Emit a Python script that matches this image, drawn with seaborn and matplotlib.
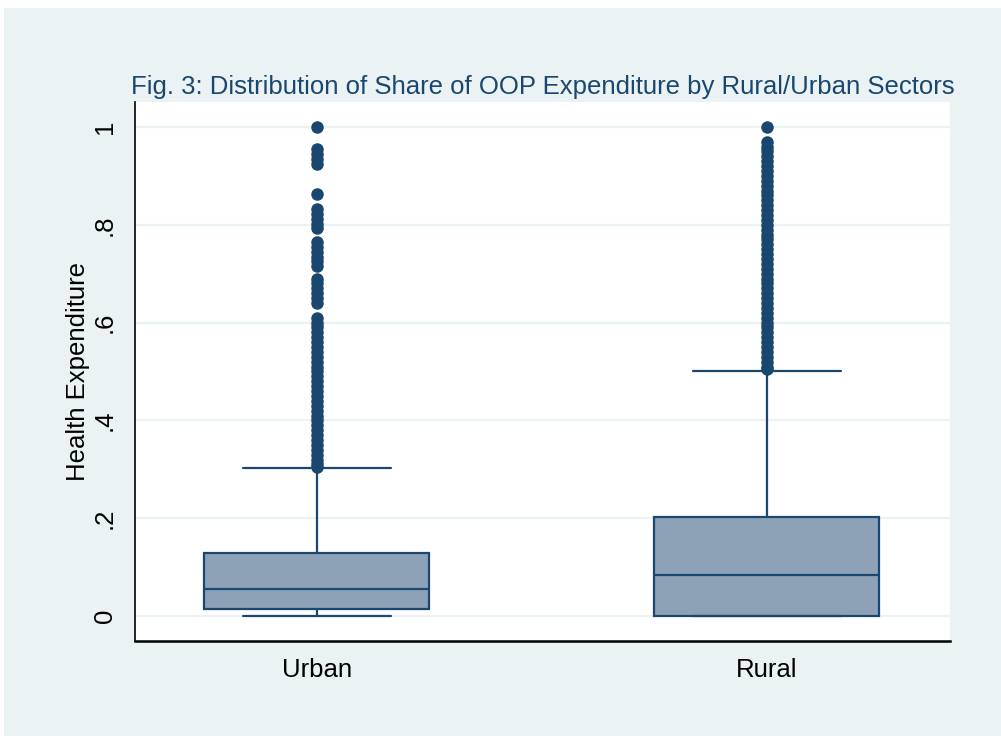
import pandas as pd
import numpy as np
import matplotlib.pyplot as plt
import seaborn as sns
from matplotlib.patches import Rectangle


# five-number summaries (min, q1, median, q3, upper whisker)
sectors = ['Urban', 'Rural']
urban_box = [0.0, 0.0143, 0.055, 0.129, 0.302]
rural_box = [0.0, 0.0, 0.084, 0.202, 0.501]

# outside values (dots above the whiskers)
urban_out = [1.0, 0.955, 0.945, 0.935, 0.925, 0.862, 0.832, 0.822, 0.812, 0.802, 0.793,
             0.765, 0.755, 0.745, 0.735, 0.725, 0.715, 0.69, 0.68, 0.67, 0.66, 0.65, 0.64,
             0.61, 0.60, 0.59, 0.58, 0.57, 0.56, 0.55, 0.54, 0.53, 0.52, 0.51, 0.50,
             0.49, 0.48, 0.47, 0.46, 0.45, 0.44, 0.43, 0.42, 0.41, 0.40, 0.39, 0.38,
             0.37, 0.36, 0.35, 0.34, 0.33, 0.32, 0.31, 0.305]
rural_out = [1.0, 0.97, 0.96, 0.95, 0.94, 0.93, 0.92, 0.91, 0.90, 0.89, 0.88, 0.87, 0.86,
             0.85, 0.84, 0.83, 0.82, 0.81, 0.80, 0.79, 0.78, 0.77, 0.76, 0.75, 0.74, 0.73,
             0.72, 0.71, 0.70, 0.69, 0.68, 0.67, 0.66, 0.65, 0.64, 0.63, 0.62, 0.61, 0.60,
             0.59, 0.58, 0.57, 0.56, 0.55, 0.54, 0.53, 0.52, 0.51, 0.505]

yticks = [0, 0.2, 0.4, 0.6, 0.8, 1.0]
ytick_labels = ['0', '.2', '.4', '.6', '.8', '1']

navy = '#1A476F'
fill = '#8DA2B7'
bg = '#EAF2F3'
grid = '#EAF2F3'

box_df = pd.DataFrame({'sector': ['Urban'] * len(urban_box) + ['Rural'] * len(rural_box),
                       'value': urban_box + rural_box})
out_df = pd.DataFrame({'sector': ['Urban'] * len(urban_out) + ['Rural'] * len(rural_out),
                       'value': urban_out + rural_out})

sns.set_style('white')
plt.rcParams['font.family'] = ['Liberation Sans', 'DejaVu Sans']
plt.rcParams['text.color'] = 'black'
plt.rcParams['xtick.color'] = 'black'
plt.rcParams['ytick.color'] = 'black'
plt.rcParams['axes.labelcolor'] = 'black'

fig = plt.figure(figsize=(10.01, 7.36), dpi=100, facecolor='white')
fig.add_artist(Rectangle((4 / 1001, 0), 1, 1 - 8 / 736, transform=fig.transFigure,
                         facecolor=bg, edgecolor='none', zorder=-10))
ax = fig.add_axes([135 / 1001, 1 - 641 / 736, 815 / 1001, 539 / 736])
ax.set_facecolor('white')

for y in yticks:
    ax.axhline(y, color=grid, lw=1.6, zorder=0)

sns.boxplot(data=box_df, x='sector', y='value', order=sectors, whis=(0, 100),
            width=0.5, color=fill, saturation=1, linecolor=navy, linewidth=1.6,
            showfliers=False, capwidths=0.33, ax=ax, zorder=2)
sns.stripplot(data=out_df, x='sector', y='value', order=sectors, jitter=False,
              color=navy, size=9, linewidth=0, ax=ax, zorder=3)

ax.set_xlim(-0.404, 1.407)
ax.set_ylim(-0.051, 1.051)
ax.set_yticks(yticks)
ax.set_yticklabels(ytick_labels, rotation=90, va='center', fontsize=18.5)
ax.tick_params(axis='y', length=7, width=1, color='black', direction='out', pad=6)
ax.tick_params(axis='x', length=0, labelsize=18.5, pad=12)
for lab in ax.get_xticklabels():
    lab.set_fontsize(18.5)

ax.set_xlabel('')
ax.set_ylabel('Health Expenditure', fontsize=18.5, labelpad=2)
ax.set_title('Fig. 3: Distribution of Share of OOP Expenditure by Rural/Urban Sectors',
             fontsize=18.5, color=navy, pad=6)

for side in ['top', 'right']:
    ax.spines[side].set_visible(False)
ax.spines['left'].set_color('black')
ax.spines['left'].set_linewidth(1.2)
ax.spines['bottom'].set_color('black')
ax.spines['bottom'].set_linewidth(1.8)

fig.savefig('out.png', dpi=100, facecolor=fig.get_facecolor())
